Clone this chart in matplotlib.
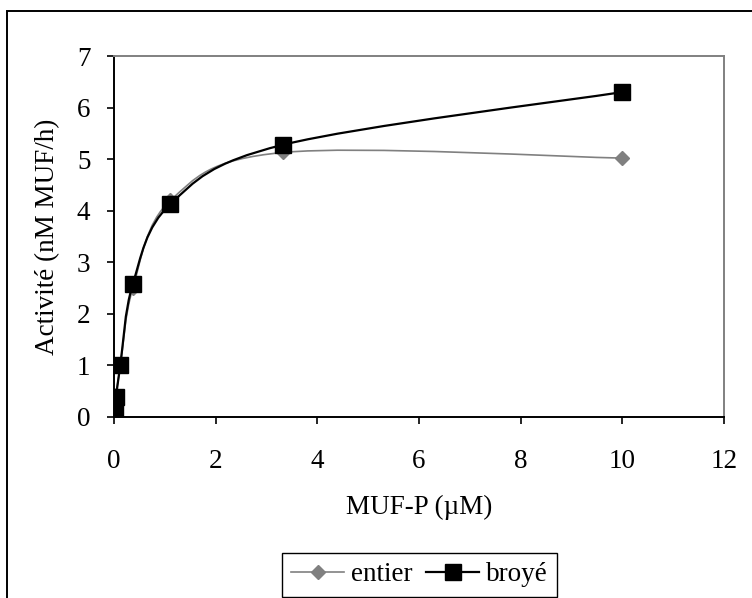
import numpy as np
import matplotlib
matplotlib.use("Agg")
import matplotlib.pyplot as plt
from matplotlib import font_manager
from matplotlib.path import Path
from matplotlib.patches import PathPatch, Rectangle
from matplotlib.lines import Line2D

# MUF-P concentrations (uM), dilution series
muf_p = [0.0137, 0.0412, 0.123, 0.370, 1.111, 3.333, 10.0]
# activity (nM MUF/h)
entier = [0.15, 0.42, 0.98, 2.50, 4.20, 5.13, 5.02]
broye = [0.17, 0.39, 1.00, 2.58, 4.13, 5.28, 6.30]

xticks = [0, 2, 4, 6, 8, 10, 12]
yticks = [0, 1, 2, 3, 4, 5, 6, 7]

FS = 19.5
GRAY = '#808080'

serif = 'DejaVu Serif'
for name in ['Liberation Serif', 'Times New Roman', 'Nimbus Roman']:
    try:
        font_manager.findfont(font_manager.FontProperties(family=name),
                              fallback_to_default=False)
        serif = name
        break
    except ValueError:
        pass
plt.rcParams['font.family'] = [serif, 'DejaVu Serif']


def smooth_path(xs, ys):
    # Excel style smoothed line: cubic bezier, tension 1/6
    p = np.column_stack([xs, ys]).astype(float)
    n = len(p)
    verts = [p[0]]
    codes = [Path.MOVETO]
    for i in range(n - 1):
        p0 = p[i - 1] if i > 0 else p[i]
        p3 = p[i + 2] if i + 2 < n else p[i + 1]
        c1 = p[i] + (p[i + 1] - p0) / 6.0
        c2 = p[i + 1] - (p3 - p[i]) / 6.0
        verts += [c1, c2, p[i + 1]]
        codes += [Path.CURVE4] * 3
    return Path(verts, codes)


fig = plt.figure(figsize=(7.52, 5.98), dpi=100)
ax = fig.add_axes([114 / 752, 1 - 417 / 598, (724 - 114) / 752, (417 - 56) / 598])

ax.add_patch(PathPatch(smooth_path(muf_p, entier), fill=False, edgecolor=GRAY,
                       lw=1.2, zorder=2))
ax.plot(muf_p, entier, ls='none', marker='D', ms=7.5, color=GRAY,
        markeredgecolor=GRAY, zorder=3)

ax.add_patch(PathPatch(smooth_path(muf_p, broye), fill=False, edgecolor='black',
                       lw=1.6, zorder=4))
ax.plot(muf_p, broye, ls='none', marker='s', ms=11.5, color='black', zorder=5)

ax.set_xlim(0, 12)
ax.set_ylim(0, 7)
ax.set_xticks(xticks)
ax.set_yticks(yticks)
ax.tick_params(axis='both', labelsize=FS, direction='out', length=5,
               width=1.2, color='black')
ax.tick_params(axis='x', pad=18)
ax.tick_params(axis='y', pad=12)

for side in ['left', 'bottom']:
    ax.spines[side].set_color('black')
    ax.spines[side].set_linewidth(1.4)
for side in ['top', 'right']:
    ax.spines[side].set_color(GRAY)
    ax.spines[side].set_linewidth(1.4)

ax.set_xlabel('MUF-P (µM)', fontsize=FS, labelpad=15)
ax.set_ylabel('Activité (nM MUF/h)', fontsize=FS, labelpad=12)

# outer chart frame, running past the right and bottom edge
fig.patches.append(Rectangle((7 / 752, -0.2), 1.2, 1.2 - 11 / 598,
                             transform=fig.transFigure, fill=False,
                             edgecolor='black', lw=1.4, zorder=0))

handles = [
    Line2D([], [], color=GRAY, lw=1.2, marker='D', ms=7.5),
    Line2D([], [], color='black', lw=1.6, marker='s', ms=11.5),
]
leg = fig.legend(handles, ['entier', 'broyé'], loc='upper left',
                 bbox_to_anchor=(282 / 752, 1 - 553 / 598), ncol=2,
                 fontsize=FS, frameon=True, fancybox=False, framealpha=1,
                 edgecolor='black', borderpad=0.35, borderaxespad=0,
                 handlelength=1.95, handletextpad=0.25, columnspacing=0.5)
leg.get_frame().set_linewidth(1.0)

fig.savefig('out.png', dpi=100)
